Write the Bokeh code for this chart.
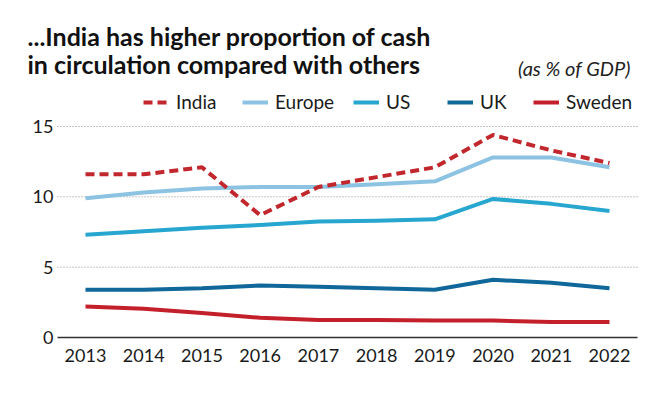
from bokeh.plotting import figure
from bokeh.models import Range1d, Label, Legend, LegendItem
from bokeh.embed import file_html
from bokeh.resources import INLINE

years = [2013, 2014, 2015, 2016, 2017, 2018, 2019, 2020, 2021, 2022]
india = [11.6, 11.6, 12.1, 8.7, 10.7, 11.4, 12.1, 14.4, 13.3, 12.4]
europe = [9.9, 10.3, 10.6, 10.7, 10.7, 10.9, 11.1, 12.8, 12.8, 12.1]
us = [7.3, 7.55, 7.8, 8.0, 8.25, 8.3, 8.4, 9.85, 9.5, 9.0]
uk = [3.4, 3.4, 3.5, 3.7, 3.6, 3.5, 3.4, 4.1, 3.9, 3.5]
sweden = [2.2, 2.05, 1.75, 1.4, 1.25, 1.25, 1.2, 1.2, 1.1, 1.1]
y_ticks = [0, 5, 10, 15]
title1 = "...India has higher proportion of cash"
title2 = "in circulation compared with others"
unit = "(as % of GDP)"

FONT = "Lato"
W, H = 652, 390
PX_PER_YEAR = 58.222
PX_PER_UNIT = 14.067
X0_PX, Y0_PX = 85, 337   # pixel of (2013, 0)

def X(px):
    return 2013 + (px - X0_PX) / PX_PER_YEAR

def Y(py):
    return (Y0_PX - py) / PX_PER_UNIT

p = figure(width=W, height=H, output_backend="svg", toolbar_location=None,
           x_range=Range1d(X(0), X(W)), y_range=Range1d(Y(H), Y(0)),
           min_border_left=0, min_border_right=0, min_border_top=0, min_border_bottom=0)
p.outline_line_color = None
p.background_fill_color = "white"
p.border_fill_color = "white"
p.grid.visible = False
p.axis.visible = False

# gridlines (dotted) and baseline, spanning the plotting area 57..637 px
grid_y = y_ticks[1:]
p.segment(x0=[X(57)] * len(grid_y), y0=grid_y, x1=[X(637)] * len(grid_y), y1=grid_y,
          line_color="#8a8a8a", line_dash="1 2", line_width=1)
p.segment(x0=[X(57)], y0=[y_ticks[0]], x1=[X(637)], y1=[y_ticks[0]],
          line_color="#333333", line_width=1.5)

for t in y_ticks:
    p.add_layout(Label(x=X(53), y=t, text=str(t), text_font=FONT, text_font_size="18px",
                       text_color="#1a1a1a", text_align="right", text_baseline="middle"))
for yr in years:
    p.add_layout(Label(x=yr, y=Y(355), text=str(yr), text_font=FONT, text_font_size="18px",
                       text_color="#1a1a1a", text_align="center", text_baseline="middle"))

r_europe = p.line(years, europe, line_color="#8cc3e2", line_width=4, line_join="round")
r_us = p.line(years, us, line_color="#27a6d0", line_width=4, line_join="round")
r_uk = p.line(years, uk, line_color="#10679a", line_width=4, line_join="round")
r_sweden = p.line(years, sweden, line_color="#c4202b", line_width=4, line_join="round")
r_india = p.line(years, india, line_color="#c1272d", line_width=4, line_dash="9 5")

items = [("India", r_india, 143), ("Europe", r_europe, 242), ("US", r_us, 353),
         ("UK", r_uk, 447), ("Sweden", r_sweden, 533)]
for lab, r, px in items:
    lg = Legend(items=[LegendItem(label=lab, renderers=[r])], orientation="horizontal",
                location=(px, H - 113))
    lg.margin = 0
    lg.padding = 0
    lg.label_standoff = 7
    lg.glyph_width = 26
    lg.glyph_height = 20
    lg.label_height = 20
    lg.label_text_font = FONT
    lg.label_text_font_size = "19px"
    lg.label_text_color = "#1a1a1a"
    lg.border_line_color = None
    lg.background_fill_alpha = 0
    p.add_layout(lg)

p.add_layout(Label(x=X(27), y=Y(35), text=title1, text_font=FONT, text_font_style="bold",
                   text_font_size="25px", text_color="#111111", text_baseline="alphabetic"))
p.add_layout(Label(x=X(27), y=Y(63), text=title2, text_font=FONT, text_font_style="bold",
                   text_font_size="25px", text_color="#111111", text_baseline="alphabetic"))
p.add_layout(Label(x=X(630), y=Y(67), text=unit, text_font=FONT, text_font_style="italic",
                   text_font_size="20px", text_color="#222222", text_baseline="alphabetic",
                   text_align="right"))

open("out.html", "w").write(file_html(p, INLINE))
